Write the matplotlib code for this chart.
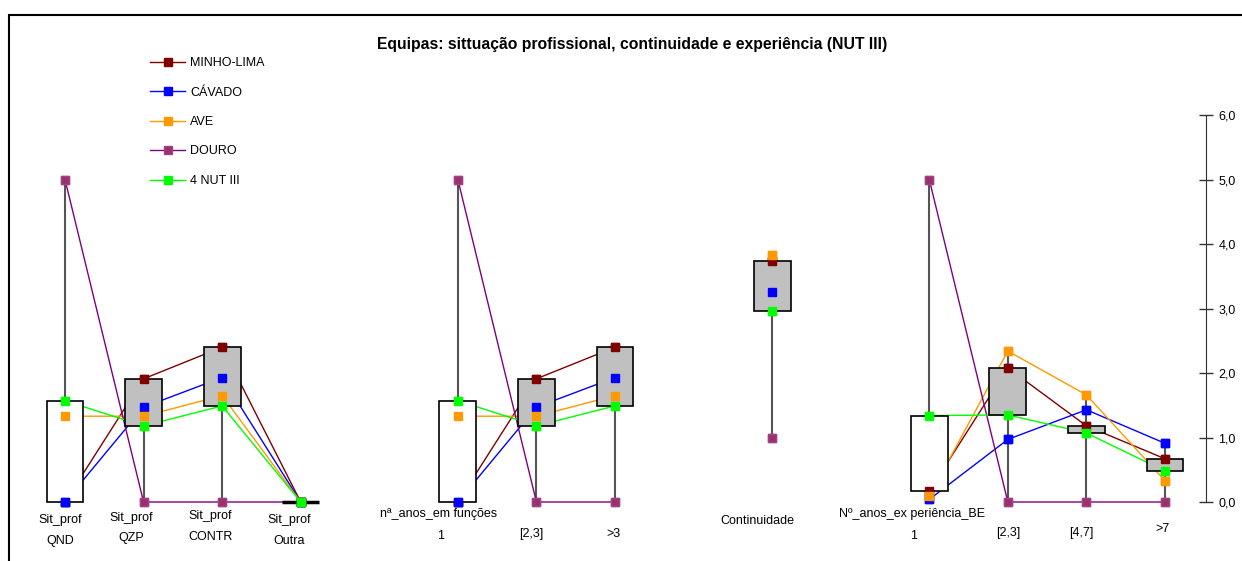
import numpy as np
import matplotlib.pyplot as plt
from matplotlib.patches import Rectangle

plt.rcParams['font.family'] = ['Liberation Sans', 'DejaVu Sans']

nan = np.nan

# 15 category slots (empty slots separate the groups)
slot_top = ['Sit_prof', 'Sit_prof', 'Sit_prof', 'Sit_prof', '',
            'nª_anos_em funções', '', '', '',
            'Continuidade', '',
            'Nº_anos_ex periência_BE', '', '', '']
slot_bottom = ['QND', 'QZP', 'CONTR', 'Outra', '',
               '1', '[2,3]', '>3', '',
               '', '',
               '1', '[2,3]', '[4,7]', '>7']

series_names = ['MINHO-LIMA', 'CÁVADO', 'AVE', 'DOURO', '4 NUT III']
minho = [0.0, 1.91, 2.40, 0.0, nan, 0.0, 1.91, 2.40, nan, 3.73, nan, 0.17, 2.08, 1.18, 0.67]
cavado = [0.0, 1.47, 1.93, 0.0, nan, 0.0, 1.47, 1.93, nan, 3.26, nan, 0.04, 0.97, 1.43, 0.91]
ave = [1.33, 1.33, 1.65, 0.0, nan, 1.33, 1.33, 1.65, nan, 3.83, nan, 0.09, 2.34, 1.66, 0.33]
douro = [5.0, 0.0, 0.0, 0.0, nan, 5.0, 0.0, 0.0, nan, 1.0, nan, 5.0, 0.0, 0.0, 0.0]
nut3 = [1.57, 1.18, 1.49, 0.0, nan, 1.57, 1.18, 1.49, nan, 2.96, nan, 1.34, 1.35, 1.07, 0.48]

line_colors = ['#800000', '#0000FF', '#FF9900', '#800080', '#00FF00']
marker_colors = ['#800000', '#0000FF', '#FF9900', '#993366', '#00FF00']
marker_edges = ['#800000', '#0000FF', '#FF9900', '#A0408F', '#00FF00']

W, H = 1242, 561
X0, DX = 65, 78.57   # pixel of slot 0, pixels per slot
Y0, DY = 502, 64.5   # pixel of y=0, pixels per unit

fig = plt.figure(figsize=(W / 100, H / 100), dpi=100)
ax = fig.add_axes([9 / W, 0, (1206 - 9) / W, (H - 15) / H])
ax.set_xlim((9 - X0) / DX, (1206 - X0) / DX)
ax.set_ylim((Y0 - H) / DY, (Y0 - 15) / DY)

x = np.arange(len(slot_top))
data = np.array([minho, cavado, ave, douro, nut3], dtype=float)
valid = ~np.isnan(data[0])

# high-low lines
lo = np.nanmin(data[:, valid], axis=0)
hi = np.nanmax(data[:, valid], axis=0)
ax.vlines(x[valid], lo, hi, color='#555555', lw=1.5, zorder=1)

# up/down boxes between MINHO-LIMA (open) and 4 NUT III (close)
op = data[0, valid]
cl = data[4, valid]
box_colors = ['white' if c >= o else '#C0C0C0' for o, c in zip(op, cl)]
box_lw = [2.5 if c == o else 1.2 for o, c in zip(op, cl)]
ax.bar(x[valid], np.abs(cl - op), bottom=np.minimum(op, cl), width=0.47,
       color=box_colors, edgecolor='black', linewidth=box_lw, zorder=3)

handles = []
for vals, name, lc, mc, me in zip(data, series_names, line_colors, marker_colors, marker_edges):
    h, = ax.plot(x, vals, color=lc, lw=1, marker='s', ms=5.5, mfc=mc, mec=me,
                 label=name, zorder=2)
    ax.plot(x, vals, ls='none', marker='s', ms=5.5, mfc=mc, mec=me, zorder=4,
            clip_on=False)
    handles.append(h)

# axis styling
for s in ['left', 'top', 'bottom']:
    ax.spines[s].set_visible(False)
ax.spines['right'].set_bounds(0, 6)
ax.spines['right'].set_color('#333333')
ax.yaxis.tick_right()
ax.set_yticks(np.arange(0, 7))
ax.set_yticklabels([f'{v:.1f}'.replace('.', ',') for v in range(7)])
ax.tick_params(axis='y', direction='inout', length=10, width=1, pad=4,
               labelsize=9, color='#333333')
ax.set_xticks([])
ax.patch.set_alpha(0)

# category labels (pixel offsets tuned to the reference)
top_dx = [-5, -12, -12, -12, 0, -19, 0, 0, 0, -15, 0, -17, 0, 0, 0]
top_py = [520, 518, 516, 520, 0, 514, 0, 0, 0, 521, 0, 514, 0, 0, 0]
bot_dx = [-5, -12, -12, -12, 0, -17, -5, -2, 0, 0, 0, -16, 0, -5, -2]
bot_py = [541, 538, 537, 541, 0, 536, 534, 534, 0, 0, 0, 536, 533, 533, 529]
for i in range(len(x)):
    if slot_top[i]:
        ax.text(i + top_dx[i] / DX, (Y0 - top_py[i]) / DY, slot_top[i],
                ha='center', va='center', fontsize=9)
    if slot_bottom[i]:
        ax.text(i + bot_dx[i] / DX, (Y0 - bot_py[i]) / DY, slot_bottom[i],
                ha='center', va='center', fontsize=9)

ax.legend(handles=handles, loc='upper left',
          bbox_to_anchor=(150 / W, 1 - 57 / H), bbox_transform=fig.transFigure,
          frameon=False, fontsize=9, handlelength=2.8, handletextpad=0.4,
          labelspacing=1.4, borderpad=0, borderaxespad=0, numpoints=1)

fig.text(632 / W, 1 - 45 / H,
         'Equipas: sittuação profissional, continuidade e experiência (NUT III)',
         ha='center', va='center', fontsize=11.3, fontweight='bold')

# outer chart frame
fig.add_artist(Rectangle((9 / W, -0.1), 1.1, 1 - 15 / H + 0.1,
                         transform=fig.transFigure, fill=False, lw=1.5,
                         ec='black'))

fig.savefig('out.png', dpi=100)
